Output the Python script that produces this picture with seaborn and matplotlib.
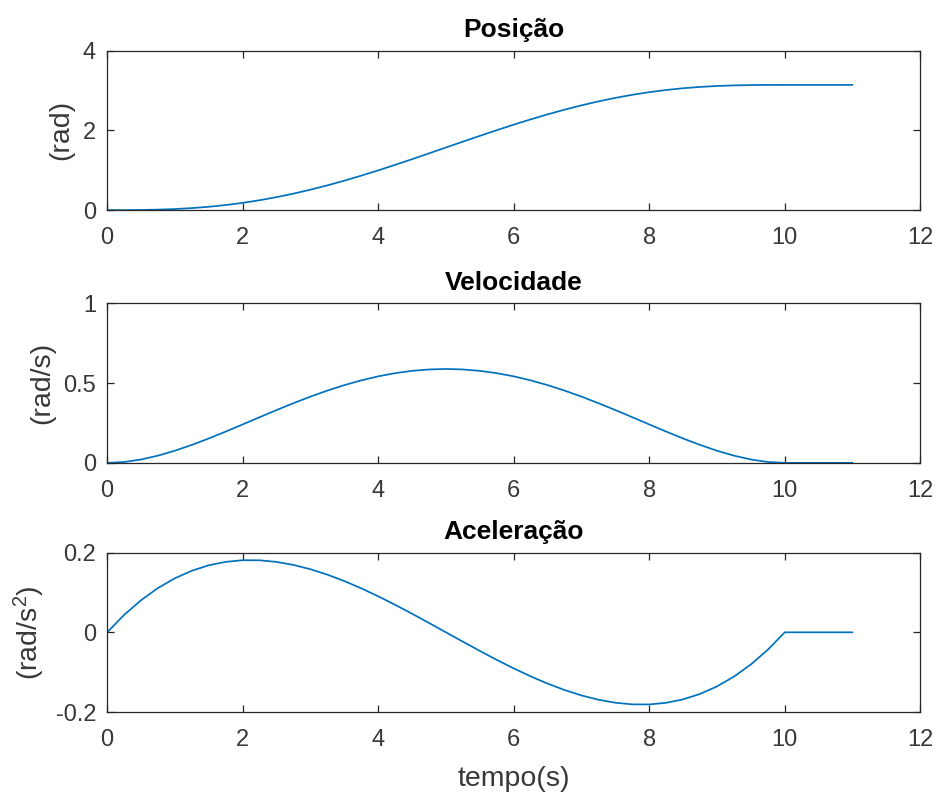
import numpy as np
import pandas as pd
import matplotlib
matplotlib.use("Agg")
import matplotlib.pyplot as plt
import seaborn as sns

# Time samples (s)
tempo = [0.0, 0.25, 0.5, 0.75, 1.0, 1.25, 1.5, 1.75, 2.0, 2.25, 2.5, 2.75,
         3.0, 3.25, 3.5, 3.75, 4.0, 4.25, 4.5, 4.75, 5.0, 5.25, 5.5, 5.75,
         6.0, 6.25, 6.5, 6.75, 7.0, 7.25, 7.5, 7.75, 8.0, 8.25, 8.5, 8.75,
         9.0, 9.25, 9.5, 9.75, 10.0, 10.5, 11.0]

# Joint position (rad)
posicao = [0.0, 0.00047, 0.00364, 0.01181, 0.02689, 0.05043, 0.08360, 0.12727,
           0.18196, 0.24794, 0.32520, 0.41349, 0.51233, 0.62105, 0.73880, 0.86459,
           0.99727, 1.13559, 1.27823, 1.42378, 1.57080, 1.71781, 1.86336, 2.00600,
           2.14432, 2.27700, 2.40279, 2.52054, 2.62926, 2.72810, 2.81639, 2.89365,
           2.95963, 3.01433, 3.05799, 3.09116, 3.11470, 3.12979, 3.13795, 3.14112,
           3.14159, 3.14159, 3.14159]

# Joint velocity (rad/s)
velocidade = [0.0, 0.00560, 0.02127, 0.04536, 0.07634, 0.11275, 0.15321, 0.19645,
              0.24127, 0.28658, 0.33134, 0.37464, 0.41563, 0.45357, 0.48779, 0.51772,
              0.54287, 0.56285, 0.57733, 0.58611, 0.58905, 0.58611, 0.57733, 0.56285,
              0.54287, 0.51772, 0.48779, 0.45357, 0.41563, 0.37464, 0.33134, 0.28658,
              0.24127, 0.19645, 0.15321, 0.11275, 0.07634, 0.04536, 0.02127, 0.00560,
              0.0, 0.0, 0.0]

# Joint acceleration (rad/s^2)
aceleracao = [0.0, 0.04365, 0.08058, 0.11115, 0.13572, 0.15463, 0.16823, 0.17689,
              0.18096, 0.18078, 0.17672, 0.16912, 0.15834, 0.14473, 0.12865, 0.11045,
              0.09048, 0.06910, 0.04665, 0.02350, 0.0, -0.02350, -0.04665, -0.06910,
              -0.09048, -0.11045, -0.12865, -0.14473, -0.15834, -0.16912, -0.17672,
              -0.18078, -0.18096, -0.17689, -0.16823, -0.15463, -0.13572, -0.11115,
              -0.08058, -0.04365, 0.0, 0.0, 0.0]

titulos = ["Posição", "Velocidade", "Aceleração"]
rotulos_y = ["(rad)", "(rad/s)", r"(rad/s$^2$)"]
limites_y = [(0, 4), (0, 1), (-0.2, 0.2)]
ticks_y = [[0, 2, 4], [0, 0.5, 1], [-0.2, 0, 0.2]]
rotulos_ticks_y = [["0", "2", "4"], ["0", "0.5", "1"], ["-0.2", "0", "0.2"]]
ticks_x = [0, 2, 4, 6, 8, 10, 12]

sns.set_theme(style="white")
plt.rcParams["font.family"] = ["Liberation Sans", "DejaVu Sans"]
plt.rcParams["mathtext.default"] = "regular"

cor_eixo = "#262626"
cor_texto = "#383838"
cor_linha = "#0072BD"

df = pd.DataFrame({"tempo": tempo, "Posição": posicao,
                   "Velocidade": velocidade, "Aceleração": aceleracao})

fig = plt.figure(figsize=(9.4, 8.05), dpi=100)
left, width = 0.114, 0.865
bottoms = [0.739, 0.425, 0.1155]
height = 0.198

for i, nome in enumerate(titulos):
    ax = fig.add_axes([left, bottoms[i], width, height])
    sns.lineplot(data=df, x="tempo", y=nome, ax=ax, color=cor_linha,
                 linewidth=1.25, estimator=None, sort=False)
    ax.set_xlim(0, 12)
    ax.set_ylim(*limites_y[i])
    ax.set_xticks(ticks_x)
    ax.set_xticklabels([str(v) for v in ticks_x])
    ax.set_yticks(ticks_y[i])
    ax.set_yticklabels(rotulos_ticks_y[i])
    ax.tick_params(direction="in", length=5, width=0.9, color=cor_eixo,
                   labelcolor=cor_texto, labelsize=17,
                   top=True, right=True, bottom=True, left=True)
    ax.tick_params(axis="x", pad=12)
    ax.tick_params(axis="y", pad=8)
    for s in ax.spines.values():
        s.set_visible(True)
        s.set_color(cor_eixo)
        s.set_linewidth(0.9)
    ax.set_title(nome, fontsize=19, fontweight="bold", color="black", pad=10)
    ax.set_ylabel(rotulos_y[i], fontsize=20.5, color=cor_texto, labelpad=6)
    ax.set_xlabel("")
    ax.grid(False)
    ax.set_facecolor("white")

ax.set_xlabel("tempo(s)", fontsize=20.5, color=cor_texto, labelpad=11)

fig.savefig("out.png", dpi=100, facecolor="white")
